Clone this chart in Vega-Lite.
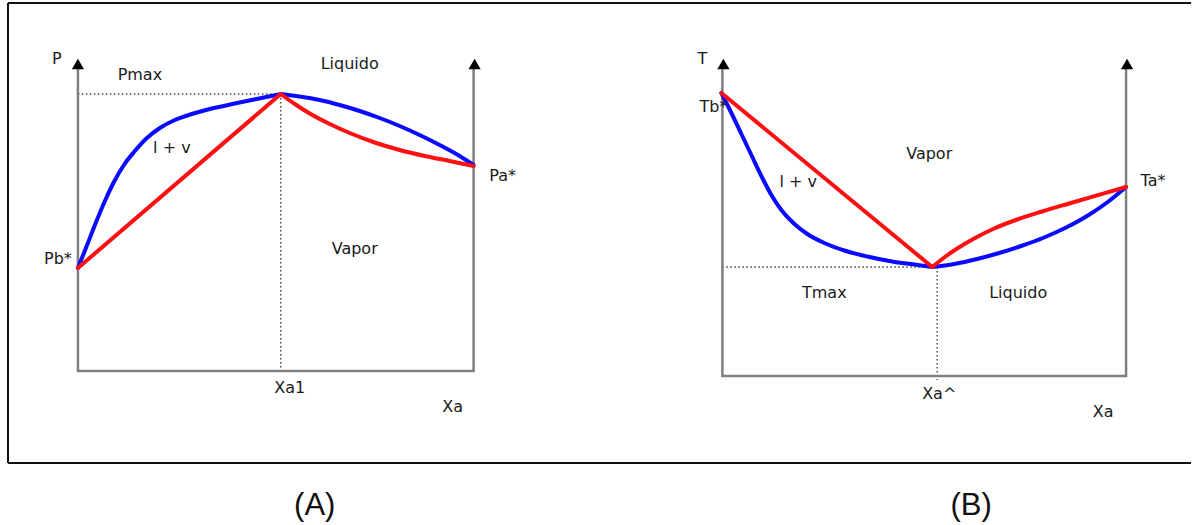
{
  "$schema": "https://vega.github.io/schema/vega-lite/v6.json",
  "width": 1192,
  "height": 525,
  "autosize": {"type": "fit", "contains": "padding"},
  "padding": 0,
  "background": "white",
  "config": {"view": {"stroke": null}},
  "datasets": {
    "curves": [
      {"id": "A1b", "phase": "bubble", "o": 0, "x": 78, "y": 268},
      {"id": "A1b", "phase": "bubble", "o": 1, "x": 86, "y": 248},
      {"id": "A1b", "phase": "bubble", "o": 2, "x": 95, "y": 225},
      {"id": "A1b", "phase": "bubble", "o": 3, "x": 105, "y": 201},
      {"id": "A1b", "phase": "bubble", "o": 4, "x": 114, "y": 182},
      {"id": "A1b", "phase": "bubble", "o": 5, "x": 124, "y": 165},
      {"id": "A1b", "phase": "bubble", "o": 6, "x": 135, "y": 151},
      {"id": "A1b", "phase": "bubble", "o": 7, "x": 147, "y": 138},
      {"id": "A1b", "phase": "bubble", "o": 8, "x": 160, "y": 128},
      {"id": "A1b", "phase": "bubble", "o": 9, "x": 175, "y": 120},
      {"id": "A1b", "phase": "bubble", "o": 10, "x": 192, "y": 114},
      {"id": "A1b", "phase": "bubble", "o": 11, "x": 212, "y": 108.5},
      {"id": "A1b", "phase": "bubble", "o": 12, "x": 235, "y": 103.5},
      {"id": "A1b", "phase": "bubble", "o": 13, "x": 258, "y": 98.8},
      {"id": "A1b", "phase": "bubble", "o": 14, "x": 281, "y": 94},
      {"id": "A2b", "phase": "bubble", "o": 0, "x": 281, "y": 94},
      {"id": "A2b", "phase": "bubble", "o": 1, "x": 300, "y": 96.5},
      {"id": "A2b", "phase": "bubble", "o": 2, "x": 320, "y": 100},
      {"id": "A2b", "phase": "bubble", "o": 3, "x": 340, "y": 105},
      {"id": "A2b", "phase": "bubble", "o": 4, "x": 360, "y": 111},
      {"id": "A2b", "phase": "bubble", "o": 5, "x": 380, "y": 118},
      {"id": "A2b", "phase": "bubble", "o": 6, "x": 400, "y": 126},
      {"id": "A2b", "phase": "bubble", "o": 7, "x": 420, "y": 135},
      {"id": "A2b", "phase": "bubble", "o": 8, "x": 440, "y": 145},
      {"id": "A2b", "phase": "bubble", "o": 9, "x": 460, "y": 156},
      {"id": "A2b", "phase": "bubble", "o": 10, "x": 474, "y": 165},
      {"id": "B1b", "phase": "bubble", "o": 0, "x": 722, "y": 93},
      {"id": "B1b", "phase": "bubble", "o": 1, "x": 732, "y": 113},
      {"id": "B1b", "phase": "bubble", "o": 2, "x": 742, "y": 134},
      {"id": "B1b", "phase": "bubble", "o": 3, "x": 752, "y": 155},
      {"id": "B1b", "phase": "bubble", "o": 4, "x": 762, "y": 176},
      {"id": "B1b", "phase": "bubble", "o": 5, "x": 772, "y": 195},
      {"id": "B1b", "phase": "bubble", "o": 6, "x": 782, "y": 210},
      {"id": "B1b", "phase": "bubble", "o": 7, "x": 794, "y": 223},
      {"id": "B1b", "phase": "bubble", "o": 8, "x": 808, "y": 234},
      {"id": "B1b", "phase": "bubble", "o": 9, "x": 825, "y": 243},
      {"id": "B1b", "phase": "bubble", "o": 10, "x": 845, "y": 250.5},
      {"id": "B1b", "phase": "bubble", "o": 11, "x": 868, "y": 256.5},
      {"id": "B1b", "phase": "bubble", "o": 12, "x": 893, "y": 261.5},
      {"id": "B1b", "phase": "bubble", "o": 13, "x": 915, "y": 264.5},
      {"id": "B1b", "phase": "bubble", "o": 14, "x": 933, "y": 267},
      {"id": "B2b", "phase": "bubble", "o": 0, "x": 933, "y": 267},
      {"id": "B2b", "phase": "bubble", "o": 1, "x": 955, "y": 264},
      {"id": "B2b", "phase": "bubble", "o": 2, "x": 978, "y": 259},
      {"id": "B2b", "phase": "bubble", "o": 3, "x": 1000, "y": 253},
      {"id": "B2b", "phase": "bubble", "o": 4, "x": 1022, "y": 246},
      {"id": "B2b", "phase": "bubble", "o": 5, "x": 1045, "y": 237.5},
      {"id": "B2b", "phase": "bubble", "o": 6, "x": 1067, "y": 227.5},
      {"id": "B2b", "phase": "bubble", "o": 7, "x": 1088, "y": 216},
      {"id": "B2b", "phase": "bubble", "o": 8, "x": 1108, "y": 202.5},
      {"id": "B2b", "phase": "bubble", "o": 9, "x": 1127, "y": 187},
      {"id": "A1d", "phase": "dew", "o": 0, "x": 78, "y": 268},
      {"id": "A1d", "phase": "dew", "o": 1, "x": 281, "y": 94},
      {"id": "A2d", "phase": "dew", "o": 0, "x": 281, "y": 94},
      {"id": "A2d", "phase": "dew", "o": 1, "x": 295, "y": 104},
      {"id": "A2d", "phase": "dew", "o": 2, "x": 310, "y": 113.5},
      {"id": "A2d", "phase": "dew", "o": 3, "x": 330, "y": 124},
      {"id": "A2d", "phase": "dew", "o": 4, "x": 350, "y": 133},
      {"id": "A2d", "phase": "dew", "o": 5, "x": 375, "y": 142.5},
      {"id": "A2d", "phase": "dew", "o": 6, "x": 400, "y": 150},
      {"id": "A2d", "phase": "dew", "o": 7, "x": 425, "y": 156},
      {"id": "A2d", "phase": "dew", "o": 8, "x": 450, "y": 161},
      {"id": "A2d", "phase": "dew", "o": 9, "x": 474, "y": 166},
      {"id": "B1d", "phase": "dew", "o": 0, "x": 722, "y": 93},
      {"id": "B1d", "phase": "dew", "o": 1, "x": 933, "y": 267},
      {"id": "B2d", "phase": "dew", "o": 0, "x": 933, "y": 267},
      {"id": "B2d", "phase": "dew", "o": 1, "x": 945, "y": 257.5},
      {"id": "B2d", "phase": "dew", "o": 2, "x": 958, "y": 248.5},
      {"id": "B2d", "phase": "dew", "o": 3, "x": 975, "y": 238.5},
      {"id": "B2d", "phase": "dew", "o": 4, "x": 995, "y": 228.5},
      {"id": "B2d", "phase": "dew", "o": 5, "x": 1018, "y": 219.5},
      {"id": "B2d", "phase": "dew", "o": 6, "x": 1043, "y": 211.5},
      {"id": "B2d", "phase": "dew", "o": 7, "x": 1070, "y": 203.5},
      {"id": "B2d", "phase": "dew", "o": 8, "x": 1098, "y": 195.3},
      {"id": "B2d", "phase": "dew", "o": 9, "x": 1127, "y": 187}
    ],
    "frames": [
      {"id": "A", "o": 0, "x": 78, "y": 66},
      {"id": "A", "o": 1, "x": 78, "y": 371},
      {"id": "A", "o": 2, "x": 474, "y": 371},
      {"id": "A", "o": 3, "x": 474, "y": 66},
      {"id": "B", "o": 0, "x": 723, "y": 66},
      {"id": "B", "o": 1, "x": 723, "y": 376},
      {"id": "B", "o": 2, "x": 1127, "y": 376},
      {"id": "B", "o": 3, "x": 1127, "y": 66}
    ],
    "arrows": [
      {"x": 78, "y": 64},
      {"x": 475, "y": 64},
      {"x": 724, "y": 64},
      {"x": 1128, "y": 64}
    ],
    "guides": [
      {"x": 78, "y": 94, "x2": 281, "y2": 94},
      {"x": 281, "y": 94, "x2": 281, "y2": 372},
      {"x": 723, "y": 267, "x2": 933, "y2": 267},
      {"x": 938, "y": 267, "x2": 938, "y2": 380}
    ],
    "border": [
      {"x": 8, "y": 3, "x2": 1192, "y2": 3},
      {"x": 8, "y": 3, "x2": 8, "y2": 463},
      {"x": 8, "y": 463, "x2": 1192, "y2": 463}
    ],
    "labels": [
      {"t": "P", "x": 57, "y": 59},
      {"t": "Pmax", "x": 140, "y": 75},
      {"t": "Liquido", "x": 350, "y": 64},
      {"t": "l + v", "x": 172, "y": 148},
      {"t": "Pb*", "x": 58, "y": 259},
      {"t": "Vapor", "x": 355, "y": 249},
      {"t": "Pa*", "x": 503, "y": 176},
      {"t": "Xa1", "x": 290, "y": 388},
      {"t": "Xa", "x": 453, "y": 407},
      {"t": "T", "x": 703, "y": 59},
      {"t": "Tb*", "x": 714, "y": 107},
      {"t": "Vapor", "x": 930, "y": 154},
      {"t": "l + v", "x": 799, "y": 182},
      {"t": "Tmax", "x": 825, "y": 293},
      {"t": "Liquido", "x": 1019, "y": 293},
      {"t": "Xa^", "x": 940, "y": 394},
      {"t": "Xa", "x": 1104, "y": 412},
      {"t": "Ta*", "x": 1154, "y": 181}
    ],
    "captions": [
      {"t": "(A)", "x": 315, "y": 506},
      {"t": "(B)", "x": 972, "y": 506}
    ]
  },
  "encoding": {
    "x": {"field": "x", "type": "quantitative", "scale": {"domain": [0, 1192], "nice": false, "zero": false}, "axis": null},
    "y": {"field": "y", "type": "quantitative", "scale": {"domain": [0, 525], "nice": false, "zero": false, "reverse": true}, "axis": null}
  },
  "layer": [
    {
      "data": {"name": "border"},
      "mark": {"type": "rule", "color": "#111111", "strokeWidth": 2},
      "encoding": {"x2": {"field": "x2"}, "y2": {"field": "y2"}}
    },
    {
      "data": {"name": "guides"},
      "mark": {"type": "rule", "color": "#444444", "strokeWidth": 1.4, "strokeDash": [1.5, 2.5]},
      "encoding": {"x2": {"field": "x2"}, "y2": {"field": "y2"}}
    },
    {
      "data": {"name": "frames"},
      "mark": {"type": "line", "color": "#7f7f7f", "strokeWidth": 2.5, "interpolate": "linear"},
      "encoding": {"detail": {"field": "id"}, "order": {"field": "o", "type": "quantitative"}}
    },
    {
      "data": {"name": "arrows"},
      "mark": {"type": "point", "shape": "triangle-up", "filled": true, "color": "#000000", "size": 150, "opacity": 1}
    },
    {
      "data": {"name": "curves"},
      "transform": [{"filter": "datum.phase === 'bubble'"}],
      "mark": {"type": "line", "color": "#0a0aff", "strokeWidth": 4, "interpolate": "monotone", "strokeCap": "round"},
      "encoding": {"detail": {"field": "id"}, "order": {"field": "o", "type": "quantitative"}}
    },
    {
      "data": {"name": "curves"},
      "transform": [{"filter": "datum.phase === 'dew'"}],
      "mark": {"type": "line", "color": "#ff1010", "strokeWidth": 4, "interpolate": "monotone", "strokeCap": "round"},
      "encoding": {"detail": {"field": "id"}, "order": {"field": "o", "type": "quantitative"}}
    },
    {
      "data": {"name": "labels"},
      "mark": {"type": "text", "font": "DejaVu Sans", "fontSize": 16, "color": "#1a1a1a", "align": "center", "baseline": "middle"},
      "encoding": {"text": {"field": "t"}}
    },
    {
      "data": {"name": "captions"},
      "mark": {"type": "text", "font": "Liberation Sans", "fontSize": 31, "color": "#111111", "align": "center", "baseline": "middle"},
      "encoding": {"text": {"field": "t"}}
    }
  ]
}
